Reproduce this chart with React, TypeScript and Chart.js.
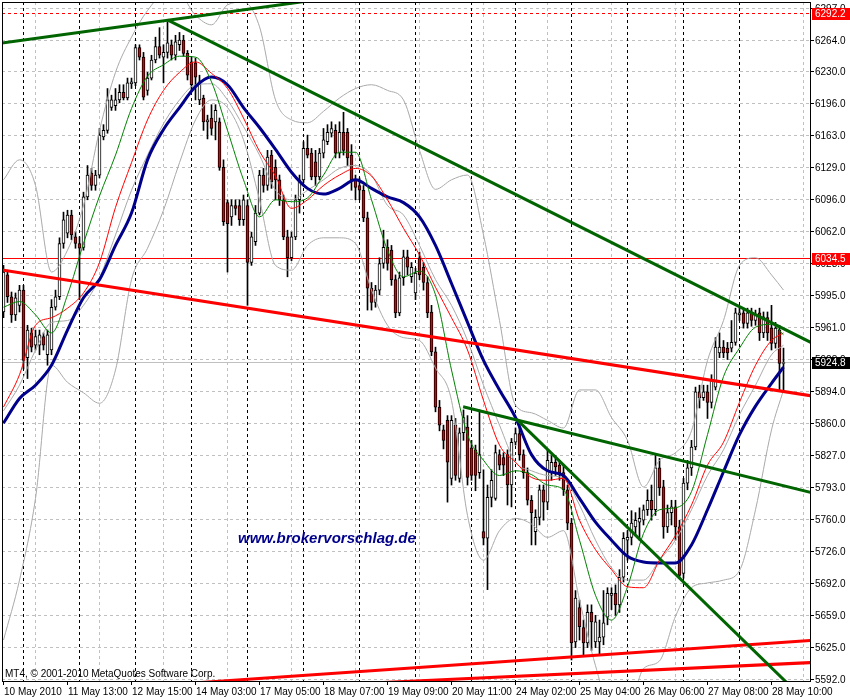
import React, { useEffect, useRef } from "react";
import { Chart, registerables } from "chart.js";

Chart.register(...registerables);

// ---- hourly candles (DAX, 10-28 May 2010) ----
const opens = [
  5978, 6017, 5994, 5975, 5985, 6001, 5930, 5956, 5943, 5943,
  5952, 5933, 5938, 5983, 5994, 6050, 6061, 6080, 6057, 6050,
  6046, 6099, 6124, 6111, 6122, 6162, 6169, 6193, 6195, 6201,
  6209, 6203, 6218, 6219, 6256, 6246, 6211, 6224, 6243, 6257,
  6246, 6251, 6259, 6248, 6259, 6264, 6250, 6241, 6240, 6201,
  6203, 6178, 6182, 6178, 6178, 6130, 6093, 6078, 6090, 6090,
  6075, 6090, 6030, 6052, 6082, 6122, 6111, 6143, 6130, 6117,
  6096, 6057, 6035, 6057, 6096, 6117, 6150, 6145, 6136, 6120,
  6145, 6157, 6166, 6169, 6145, 6167, 6167, 6143, 6117, 6111,
  6106, 6077, 6003, 5988, 6001, 6029, 6046, 6043, 6012, 5977,
  6014, 6036, 6015, 5998, 6035, 6025, 6009, 5978, 5936, 5878,
  5854, 5864, 5803, 5859, 5803, 5851, 5857, 5835, 5833, 5809,
  5747, 5740, 5783, 5782, 5828, 5825, 5828, 5796, 5841, 5850,
  5828, 5809, 5780, 5747, 5762, 5791, 5778, 5809, 5820, 5817,
  5809, 5791, 5756, 5631, 5667, 5646, 5630, 5662, 5631, 5631,
  5636, 5657, 5680, 5682, 5670, 5699, 5738, 5741, 5752, 5757,
  5759, 5770, 5780, 5770, 5814, 5794, 5752, 5767, 5773, 5752,
  5703, 5798, 5814, 5836, 5894, 5888, 5894, 5883, 5899, 5935,
  5941, 5940, 5940, 5946, 5975, 5977, 5966, 5977, 5969, 5977,
  5956, 5972, 5961, 5945, 5959, 5924,
];
const highs = [
  6027, 6022, 5999, 5998, 6006, 6006, 5964, 5961, 5959, 5959,
  5956, 5959, 5991, 6001, 6056, 6083, 6085, 6085, 6062, 6057,
  6104, 6132, 6129, 6127, 6171, 6175, 6213, 6206, 6213, 6217,
  6217, 6224, 6224, 6259, 6259, 6251, 6230, 6248, 6267, 6277,
  6259, 6283, 6264, 6269, 6272, 6269, 6253, 6246, 6245, 6227,
  6206, 6185, 6196, 6196, 6182, 6138, 6096, 6096, 6096, 6096,
  6101, 6096, 6062, 6090, 6127, 6129, 6148, 6148, 6138, 6122,
  6101, 6064, 6062, 6101, 6122, 6157, 6164, 6150, 6148, 6150,
  6171, 6175, 6178, 6175, 6178, 6188, 6171, 6154, 6122, 6119,
  6111, 6083, 6009, 6006, 6035, 6064, 6054, 6048, 6017, 6020,
  6043, 6043, 6030, 6024, 6041, 6030, 6015, 5985, 5941, 5885,
  5859, 5869, 5869, 5866, 5856, 5875, 5869, 5843, 5838, 5875,
  5812, 5796, 5812, 5838, 5833, 5830, 5833, 5845, 5856, 5859,
  5833, 5814, 5785, 5770, 5796, 5796, 5833, 5827, 5827, 5822,
  5817, 5796, 5761, 5685, 5675, 5654, 5670, 5670, 5659, 5654,
  5685, 5688, 5688, 5691, 5707, 5746, 5748, 5769, 5767, 5772,
  5775, 5791, 5796, 5828, 5824, 5801, 5775, 5780, 5780, 5759,
  5803, 5822, 5843, 5899, 5901, 5901, 5901, 5912, 5951, 5956,
  5948, 5946, 5969, 5982, 5982, 5982, 5982, 5982, 5980, 5982,
  5978, 5978, 5985, 5967, 5964, 5940,
];
const lows = [
  5972, 5988, 5967, 5969, 5978, 5918, 5908, 5936, 5938, 5933,
  5938, 5922, 5933, 5980, 5991, 6045, 6056, 6054, 6045, 5991,
  6043, 6096, 6106, 6106, 6119, 6159, 6166, 6190, 6190, 6198,
  6201, 6201, 6213, 6216, 6243, 6201, 6206, 6222, 6240, 6245,
  6219, 6245, 6243, 6243, 6253, 6247, 6222, 6211, 6201, 6196,
  6169, 6160, 6164, 6159, 6127, 6069, 6020, 6069, 6080, 6069,
  6069, 5985, 6027, 6048, 6080, 6104, 6106, 6108, 6096, 6090,
  6054, 6015, 6032, 6054, 6082, 6114, 6140, 6117, 6111, 6117,
  6140, 6154, 6162, 6140, 6140, 6143, 6132, 6106, 6096, 6096,
  6073, 5980, 5980, 5983, 5996, 6024, 6022, 6006, 5972, 5974,
  6006, 6017, 6009, 5991, 6012, 6001, 5972, 5932, 5873, 5853,
  5834, 5778, 5796, 5801, 5799, 5843, 5796, 5801, 5790, 5803,
  5733, 5686, 5773, 5780, 5812, 5806, 5775, 5773, 5838, 5822,
  5803, 5775, 5733, 5733, 5754, 5759, 5770, 5801, 5806, 5801,
  5785, 5749, 5612, 5625, 5633, 5617, 5625, 5622, 5625, 5617,
  5628, 5649, 5665, 5659, 5662, 5694, 5717, 5733, 5743, 5738,
  5754, 5764, 5759, 5764, 5785, 5740, 5746, 5754, 5738, 5698,
  5698, 5791, 5806, 5833, 5877, 5885, 5866, 5877, 5896, 5930,
  5930, 5928, 5936, 5943, 5969, 5961, 5961, 5963, 5964, 5948,
  5951, 5948, 5938, 5940, 5896, 5896,
];
const closes = [
  6020, 5994, 5975, 5993, 6001, 5927, 5959, 5941, 5952, 5954,
  5943, 5954, 5983, 5994, 6050, 6075, 6080, 6059, 6050, 6045,
  6099, 6122, 6111, 6122, 6164, 6169, 6201, 6201, 6201, 6209,
  6203, 6219, 6220, 6256, 6246, 6204, 6224, 6243, 6257, 6248,
  6251, 6261, 6248, 6262, 6264, 6250, 6227, 6217, 6225, 6220,
  6178, 6180, 6171, 6190, 6130, 6073, 6071, 6090, 6087, 6075,
  6096, 6030, 6057, 6082, 6122, 6111, 6141, 6115, 6117, 6096,
  6057, 6035, 6057, 6096, 6117, 6150, 6143, 6120, 6120, 6145,
  6159, 6167, 6171, 6145, 6167, 6148, 6140, 6117, 6109, 6106,
  6077, 6003, 5988, 6001, 6029, 6046, 6029, 6012, 5977, 6014,
  6036, 6025, 6025, 6019, 6017, 6009, 5977, 5936, 5878, 5859,
  5843, 5820, 5864, 5806, 5851, 5867, 5804, 5806, 5806, 5828,
  5740, 5783, 5801, 5830, 5817, 5817, 5796, 5841, 5850, 5828,
  5809, 5780, 5767, 5762, 5791, 5778, 5822, 5820, 5815, 5809,
  5791, 5756, 5630, 5677, 5647, 5630, 5662, 5652, 5652, 5636,
  5651, 5682, 5682, 5670, 5699, 5740, 5741, 5756, 5759, 5761,
  5770, 5780, 5770, 5814, 5793, 5752, 5767, 5773, 5752, 5701,
  5798, 5814, 5836, 5894, 5888, 5894, 5883, 5906, 5941, 5941,
  5935, 5935, 5946, 5977, 5977, 5966, 5977, 5969, 5975, 5956,
  5973, 5956, 5945, 5961, 5924, 5924.8,
];

// ---- indicators, read every 4th bar ----
const maIndex = [
  0, 4, 8, 12, 16, 20, 24, 28, 32, 36, 40, 44, 48, 52, 56, 60, 64, 68, 72, 76,
  80, 84, 88, 92, 96, 100, 104, 108, 112, 116, 120, 124, 128, 132, 136, 140,
  144, 148, 152, 156, 160, 164, 168, 172, 176, 180, 184, 188, 192, 195,
];
const maBlue = [
  5861, 5887, 5901, 5922, 5959, 5993, 6012, 6048, 6082, 6138, 6170, 6193, 6215, 6225, 6217, 6193, 6172, 6149, 6125, 6108,
  6102, 6108, 6117, 6108, 6099, 6093, 6078, 6048, 6008, 5967, 5927, 5896, 5867, 5828, 5811, 5806,
  5782, 5757, 5738, 5721, 5715, 5714, 5714, 5733, 5770, 5810, 5849, 5879, 5903, 5920,
];
const maRed = [
  5878, 5912, 5964, 5972, 5982, 5998, 6030, 6088, 6135, 6180, 6211, 6230, 6241, 6229, 6213, 6182, 6147, 6121, 6087, 6096,
  6111, 6122, 6129, 6121, 6096, 6066, 6038, 6004, 5972, 5938, 5885, 5838, 5820, 5804, 5801, 5803,
  5759, 5728, 5707, 5689, 5688, 5717, 5743, 5775, 5817, 5841, 5883, 5922, 5948, 5956,
];
const maGreen = [
  5983, 5989, 5975, 5956, 5996, 6050, 6100, 6143, 6192, 6226, 6238, 6247, 6246, 6220, 6169, 6117, 6078, 6096, 6094, 6098,
  6122, 6146, 6146, 6096, 6043, 6015, 6021, 5996, 5917, 5849, 5822, 5806, 5811, 5807, 5796, 5791,
  5738, 5680, 5654, 5689, 5745, 5770, 5772, 5789, 5849, 5910, 5940, 5962, 5965, 5954,
];
const bbUpper = [
  6117, 6138, 6111, 6020, 6043, 6090, 6169, 6230, 6267, 6295, 6311, 6311, 6290, 6280, 6301, 6304, 6278, 6201, 6180, 6177,
  6189, 6203, 6213, 6217, 6211, 6201, 6148, 6107, 6117, 6122, 6059, 5969, 5880, 5872, 5864, 5856,
  5896, 5896, 5867, 5843, 5794, 5822, 5830, 5853, 5927, 5969, 6027, 6035, 6017, 6001,
];
const bbMiddle = [
  5874, 5901, 5938, 5967, 5969, 5985, 6014, 6059, 6106, 6143, 6176, 6201, 6217, 6218, 6201, 6173, 6143, 6106, 6096, 6106,
  6117, 6129, 6132, 6122, 6090, 6080, 6048, 6012, 5985, 5948, 5901, 5859, 5820, 5811, 5806, 5803,
  5775, 5738, 5709, 5696, 5696, 5717, 5738, 5770, 5806, 5833, 5870, 5901, 5933, 5943,
];
const bbLower = [
  5633, 5696, 5782, 5922, 5904, 5893, 5882, 5917, 6012, 6045, 6085, 6135, 6180, 6201, 6193, 6159, 6096, 6027, 6022, 6048,
  6056, 6056, 6050, 6001, 5964, 5951, 5948, 5919, 5885, 5764, 5717, 5748, 5761, 5755, 5741, 5748,
  5675, 5606, 5559, 5559, 5603, 5611, 5658, 5688, 5693, 5696, 5706, 5770, 5854, 5896,
];

// ---- hand-drawn objects: [barIndex, price] pairs ----
const greenTrendLines = [
  [[-0.375, 6260.8], [80, 6307.3]],
  [[41.1, 6285.0], [202, 5945.6]],
  [[114.9, 5878.4], [202, 5788.0]],
  [[128.3, 5865.1], [200, 5571.0]],
];
const redTrendLines = [
  [[-0.375, 6022.1], [202, 5889.8]],
  [[40, 5585.6], [202, 5632.7]],
  [[80, 5585.4], [202, 5609.3]],
];
const dashedRedLevels = [6292.2];
const solidRedLevels = [6034.5];
const bidLevels = [5924.8];

// ---- axes ----
const xLabelIndex = [0, 16, 32, 48, 64, 80, 96, 112, 128, 144, 160, 176, 192];
const xLabels = [
  "10 May 2010", "11 May 13:00", "12 May 15:00", "14 May 03:00", "17 May 05:00",
  "18 May 07:00", "19 May 09:00", "20 May 11:00", "24 May 02:00", "25 May 04:00",
  "26 May 06:00", "27 May 08:00", "28 May 10:00",
];
const gridIndex = [8, 24, 40, 56, 72, 88, 104, 120, 136, 152, 168, 184, 200];
const daySeparators = [5, 19, 33, 47, 61, 75, 89, 103, 117, 128, 142, 156, 170, 184];
const yTickValues = [
  5592.0, 5625.6, 5659.2, 5692.8, 5726.4, 5760.0, 5793.6, 5827.2, 5860.8, 5894.4, 5928.0,
  5961.6, 5995.2, 6028.8, 6062.4, 6096.0, 6129.6, 6163.2, 6196.8, 6230.4, 6264.0, 6297.6,
];
const yTickLabels = [
  "5592.0", "5625.0", "5659.0", "5692.0", "5726.0", "5760.0", "5793.0", "5827.0", "5860.0", "5894.0", "5928.0",
  "5961.0", "5995.0", "6028.0", "6062.0", "6096.0", "6129.0", "6163.0", "6196.0", "6230.0", "6264.0", "6297.0",
];
const watermark = "www.brokervorschlag.de";
const copyright = "MT4, \u00A9 2001-2010 MetaQuotes Software Corp.";

const FONT = '"Liberation Sans", Arial, sans-serif';

function hline(ctx: CanvasRenderingContext2D, y: number, x0: number, x1: number) {
  ctx.beginPath();
  ctx.moveTo(x0, y);
  ctx.lineTo(x1, y);
  ctx.stroke();
}
function vline(ctx: CanvasRenderingContext2D, x: number, y0: number, y1: number) {
  ctx.beginPath();
  ctx.moveTo(x, y0);
  ctx.lineTo(x, y1);
  ctx.stroke();
}

const mt4Plugin = {
  id: "mt4Decor",
  beforeDatasetsDraw(chart: any) {
    const { ctx, chartArea: a } = chart;
    const xs = chart.scales.x;
    const ys = chart.scales.y;
    ctx.save();
    ctx.beginPath();
    ctx.rect(a.left, a.top, a.right - a.left, a.bottom - a.top);
    ctx.clip();
    ctx.lineWidth = 1;
    ctx.setLineDash([3, 3]);
    ctx.strokeStyle = "#c0c0c0";
    for (const v of yTickValues) {
      const py = Math.floor(ys.getPixelForValue(v)) + 0.5;
      hline(ctx, py, a.left, a.right);
    }
    for (const i of gridIndex) {
      const px = Math.floor(xs.getPixelForValue(i)) + 0.5;
      vline(ctx, px, a.top, a.bottom);
    }
    ctx.strokeStyle = "#000000";
    for (const i of daySeparators) {
      const px = Math.floor(xs.getPixelForValue(i)) + 0.5;
      vline(ctx, px, a.top, a.bottom);
    }
    ctx.strokeStyle = "#ff0000";
    for (const v of dashedRedLevels) {
      hline(ctx, Math.floor(ys.getPixelForValue(v)) + 0.5, a.left, a.right);
    }
    ctx.setLineDash([]);
    for (const v of solidRedLevels) {
      hline(ctx, Math.floor(ys.getPixelForValue(v)) + 0.5, a.left, a.right);
    }
    ctx.strokeStyle = "#c0c0c0";
    for (const v of bidLevels) {
      hline(ctx, Math.floor(ys.getPixelForValue(v)) + 0.5, a.left, a.right);
    }
    ctx.restore();
  },
  afterDraw(chart: any) {
    const { ctx, chartArea: a } = chart;
    const xs = chart.scales.x;
    const ys = chart.scales.y;
    ctx.save();
    // texts inside plot
    ctx.font = "italic bold 15px " + FONT;
    ctx.fillStyle = "#00008b";
    ctx.textBaseline = "alphabetic";
    ctx.textAlign = "left";
    ctx.fillText(watermark, a.left + 236, a.top + 541);
    ctx.font = "10px " + FONT;
    ctx.fillStyle = "#000000";
    ctx.fillText(copyright, a.left + 3, a.bottom - 4);

    // frame
    ctx.strokeStyle = "#000000";
    ctx.lineWidth = 1;
    ctx.setLineDash([]);
    ctx.strokeRect(a.left + 0.5, a.top + 0.5, a.right - a.left, a.bottom - a.top);

    // y axis ticks + labels
    ctx.font = "10px " + FONT;
    ctx.textBaseline = "middle";
    ctx.textAlign = "left";
    yTickValues.forEach((v, k) => {
      const py = Math.floor(ys.getPixelForValue(v)) + 0.5;
      hline(ctx, py, a.right, a.right + 4);
      ctx.fillStyle = "#000000";
      ctx.fillText(yTickLabels[k], a.right + 5, py + 0.5);
    });

    // x axis ticks + labels
    ctx.textBaseline = "alphabetic";
    xLabelIndex.forEach((i, k) => {
      const px = Math.floor(xs.getPixelForValue(i)) + 0.5;
      vline(ctx, px, a.bottom, a.bottom + 4);
      ctx.fillText(xLabels[k], px + 0.5, a.bottom + 14);
    });

    // price boxes
    const box = (v: number, color: string) => {
      const py = Math.floor(ys.getPixelForValue(v));
      ctx.fillStyle = color;
      ctx.fillRect(a.right + 2, py - 5, chart.width - a.right - 2, 12);
      ctx.fillStyle = "#ffffff";
      ctx.textBaseline = "middle";
      ctx.fillText(v.toFixed(1), a.right + 5, py + 1);
    };
    dashedRedLevels.forEach((v) => box(v, "#ff0000"));
    solidRedLevels.forEach((v) => box(v, "#ff0000"));
    bidLevels.forEach((v) => box(v, "#000000"));
    ctx.restore();
  },
};

function lineSet(values: number[], color: string, width: number, order: number) {
  return {
    type: "line" as const,
    data: maIndex.map((i, k) => ({ x: i, y: values[k] })),
    borderColor: color,
    borderWidth: width,
    pointRadius: 0,
    cubicInterpolationMode: "monotone" as const,
    clip: 0,
    order,
  };
}

function trendSet(pts: number[][], color: string) {
  return {
    type: "line" as const,
    data: pts.map((p) => ({ x: p[0], y: p[1] })),
    borderColor: color,
    borderWidth: 3,
    pointRadius: 0,
    clip: 0,
    order: 0,
  };
}

export default function App() {
  const ref = useRef<HTMLCanvasElement | null>(null);
  useEffect(() => {
    document.body.style.margin = "0";
    const canvas = ref.current;
    if (!canvas) return;
    const bodyColors = opens.map((o, i) => (closes[i] >= o ? "#ffffff" : "#e00000"));
    const chart = new Chart(canvas, {
      type: "bar",
      data: {
        datasets: [
          ...greenTrendLines.map((l) => trendSet(l, "#006400")),
          ...redTrendLines.map((l) => trendSet(l, "#ff0000")),
          lineSet(maGreen, "#008000", 1, 10),
          lineSet(maRed, "#ff0000", 1, 11),
          lineSet(maBlue, "#00008b", 3, 12),
          lineSet(bbUpper, "#a9a9a9", 1, 20),
          lineSet(bbMiddle, "#a9a9a9", 1, 21),
          lineSet(bbLower, "#a9a9a9", 1, 22),
          {
            type: "bar" as const,
            data: opens.map((o, i) => ({ x: i, y: [o, closes[i]] })),
            backgroundColor: bodyColors,
            borderColor: "#000000",
            borderWidth: 1,
            borderSkipped: false,
            barThickness: 3,
            grouped: false,
            order: 30,
          },
          {
            type: "bar" as const,
            data: opens.map((_, i) => ({ x: i, y: [lows[i], highs[i]] })),
            backgroundColor: "#000000",
            borderWidth: 0,
            barThickness: 1,
            grouped: false,
            order: 40,
          },
        ] as any,
      },
      options: {
        responsive: false,
        devicePixelRatio: 1,
        animation: false,
        events: [],
        layout: { padding: { left: 2, top: 2, right: 40, bottom: 19 } },
        plugins: { legend: { display: false }, tooltip: { enabled: false } },
        scales: {
          x: { type: "linear", min: -0.375, max: 201.625, offset: false, display: false },
          y: { type: "linear", min: 5589.9, max: 6304, display: false },
        },
      } as any,
      plugins: [mt4Plugin],
    });
    return () => chart.destroy();
  }, []);
  return (
    <div style={{ width: 850, height: 700, background: "#ffffff" }}>
      <canvas ref={ref} width={850} height={700} style={{ display: "block" }} />
    </div>
  );
}
